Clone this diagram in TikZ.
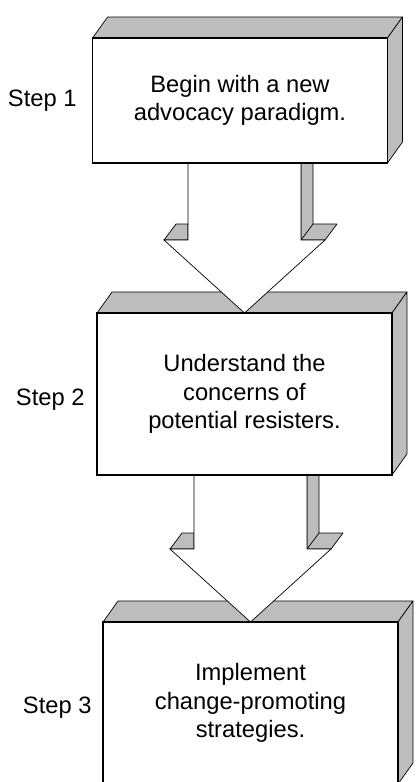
\documentclass[tikz,border=0pt]{standalone}
\usepackage{fontspec}
\setmainfont{Liberation Sans}
\usetikzlibrary{positioning,calc,backgrounds}
\definecolor{raster}{gray}{0.74}

\begin{document}
\begin{tikzpicture}[x=0.02cm, y=-0.02cm, line width=0.7pt,
    kasten/.style={draw, fill=white, align=center, inner sep=0pt, outer sep=0pt, minimum width=5.9cm, font=\fontsize{13.5}{16.2}\selectfont},
    schritt/.style={font=\fontsize{13.5}{16.2}\selectfont},
    seite/.style={draw, fill=raster, line join=round},
    pfeil/.style={draw, fill=white}]

        \useasboundingbox (0,0) rectangle (416,782);

        \node [kasten, minimum height=2.5cm] (kasten1) at (240,100.5) {Begin with a new\\advocacy paradigm.};
        \node [kasten, minimum height=3.24cm] (kasten2) at (244.5,394) {Understand the\\concerns of\\potential resisters.};
        \node [kasten, minimum height=3.24cm] (kasten3) at (250.5,703) {Implement\\change-promoting\\strategies.};

        \node [schritt, left=0.19cm of kasten1] (schritt1) {Step 1};
        \node [schritt, left=0.12cm of kasten2, yshift=-0.12cm] (schritt2) {Step 2};
        \node [schritt, left=0.1cm of kasten3, yshift=-0.1cm] (schritt3) {Step 3};

        \begin{pgfonlayer}{background}
            % Tiefe der Kaesten
            \foreach \k in {kasten1, kasten2, kasten3}
            {
                \draw [seite] (\k.north west) -- ++(15,-21) -- ($(\k.north east)+(15,-21)$) -- (\k.north east) -- cycle;
                \draw [seite] (\k.north east) -- ++(15,-21) -- ($(\k.south east)+(15,-21)$) -- (\k.south east) -- cycle;
            }
            % Pfeile zwischen den Schritten
            \foreach \von/\nach in {kasten1/kasten2, kasten2/kasten3}
            {
                \coordinate (spitze) at (\nach.north);
                \coordinate (oben) at (\von.south -| spitze);
                \draw [seite] ($(oben)+(56.5,0)$) -- ($(oben)+(68.5,0)$) -- ($(spitze)+(68.5,-89)$) -- ($(spitze)+(92.5,-89)$) -- ($(spitze)+(80.5,-73)$) -- ($(spitze)+(56.5,-73)$) -- cycle;
                \draw ($(spitze)+(56.5,-73)$) -- ($(spitze)+(68.5,-89)$);
                \draw [seite] ($(spitze)+(-80.5,-73)$) -- ($(spitze)+(-68.5,-89)$) -- ($(spitze)+(-56.5,-89)$) -- ($(spitze)+(-56.5,-73)$) -- cycle;
                \draw [pfeil] ($(oben)+(-56.5,0)$) -- ($(spitze)+(-56.5,-73)$) -- ($(spitze)+(-80.5,-73)$) -- (spitze) -- ($(spitze)+(80.5,-73)$) -- ($(spitze)+(56.5,-73)$) -- ($(oben)+(56.5,0)$);
            }
        \end{pgfonlayer}

\end{tikzpicture}
\end{document}
